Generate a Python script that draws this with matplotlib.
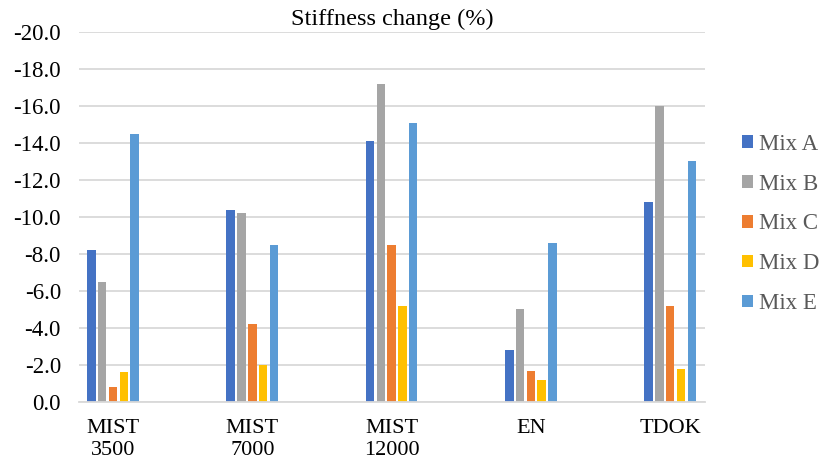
import numpy as np
import matplotlib.pyplot as plt

plt.rcParams['font.family'] = ['Liberation Serif', 'DejaVu Serif']

# stiffness change per test method (%)
methods = ["MIST\n3500", "MIST\n7000", "MIST\n12000", "EN", "TDOK"]
mix_names = ["Mix A", "Mix B", "Mix C", "Mix D", "Mix E"]
mix_a = [-8.2, -10.4, -14.1, -2.8, -10.8]
mix_b = [-6.5, -10.2, -17.2, -5.0, -16.0]
mix_c = [-0.8, -4.2, -8.5, -1.7, -5.2]
mix_d = [-1.6, -2.0, -5.2, -1.2, -1.8]
mix_e = [-14.5, -8.5, -15.1, -8.6, -13.0]
colors = ["#4472C4", "#A5A5A5", "#ED7D31", "#FFC000", "#5B9BD5"]

fig = plt.figure(figsize=(8.24, 4.68), dpi=100)
ax = fig.add_axes([0.0959, 0.141, 0.7597, 0.791])

x = np.arange(len(methods))
width = 0.061
step = 0.0776
for i, (vals, name, c) in enumerate(zip([mix_a, mix_b, mix_c, mix_d, mix_e], mix_names, colors)):
    ax.bar(x + (i - 2) * step, vals, width=width, color=c, label=name, zorder=3)

# negative values upward: 0 at the bottom, -20 at the top
ax.set_ylim(0, -20)
yt = np.arange(0, -20.1, -2)
ax.set_yticks(yt)
ax.set_yticklabels([f"{v:.1f}" if v != 0 else "0.0" for v in yt])
ax.set_xlim(-0.244, 4.25)
ax.set_xticks(x)
ax.set_xticklabels(methods, linespacing=1.25)

ax.grid(axis="y", color="#d9d9d9", linewidth=1.3, zorder=0)
for s in ["top", "right", "left"]:
    ax.spines[s].set_visible(False)
ax.spines["bottom"].set_color("#d9d9d9")
ax.spines["bottom"].set_linewidth(1.3)
ax.spines["bottom"].set_zorder(4)
ax.tick_params(axis="both", length=0, labelsize=16, colors="black")
ax.tick_params(axis="y", labelsize=16.5, pad=13)
ax.tick_params(axis="x", pad=12)

ax.set_title("Stiffness change (%)", fontsize=17.5, pad=5)

leg = ax.legend(loc="center left", bbox_to_anchor=(1.045, 0.481), frameon=False,
                fontsize=16.5, handlelength=0.48, handleheight=0.48, handletextpad=0.25,
                labelspacing=0.82, borderaxespad=0)
for t in leg.get_texts():
    t.set_color("#595959")

fig.savefig("out.png", dpi=100)
